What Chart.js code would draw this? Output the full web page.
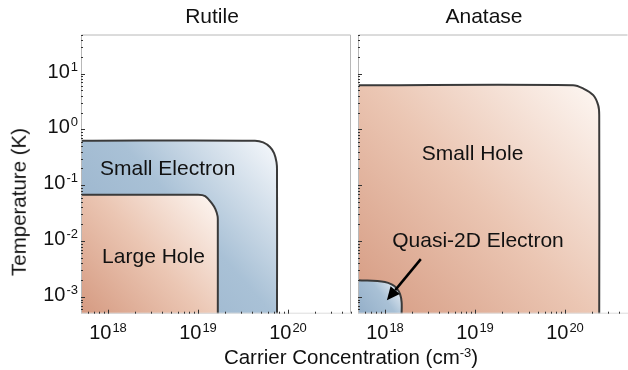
<!DOCTYPE html>
<html>
<head>
<meta charset="utf-8">
<script src="https://cdn.jsdelivr.net/npm/chart.js@4.4.1/dist/chart.umd.min.js"></script>
<style>
  html, body { margin: 0; padding: 0; background: #fff; }
  #wrap { position: relative; width: 628px; height: 370px; overflow: hidden;
          font-family: 'Liberation Sans', Arial, sans-serif; color: #111; }
  canvas { position: absolute; top: 0; }
  #rutile { left: 0; }
  #anatase { left: 352px; }
  .xtitle { position: absolute; left: 351px; top: 347px; transform: translateX(-50%);
            font-size: 20.5px; line-height: 20.5px; white-space: nowrap; }
  .xtitle sup { font-size: 13px; vertical-align: 7px; line-height: 0; }
  .ytitle { position: absolute; left: 19px; top: 202px; transform: translate(-50%, -50%) rotate(-90deg);
            font-size: 20.5px; line-height: 20.5px; white-space: nowrap; }
</style>
</head>
<body>
<div id="wrap">
  <canvas id="rutile" width="356" height="370"></canvas>
  <canvas id="anatase" width="276" height="370"></canvas>
  <div class="ytitle">Temperature (K)</div>
  <div class="xtitle">Carrier Concentration (cm<sup>-3</sup>)</div>
</div>
<script>
// axis limits (cm^-3 and K)
const xRange = [5.012e17, 5.012e20];
const yRange = [5.012e-4, 50.12];
const xTickExps = [18, 19, 20];
const yTickExps = [-3, -2, -1, 0, 1];

// Rutile phase boundaries
const smallElectronN = [5e17, 4.3e19, 5.3e19, 6.3e19, 7.0e19, 7.45e19, 7.55e19, 7.55e19];
const smallElectronT = [0.63, 0.63, 0.586, 0.483, 0.377, 0.26, 0.187, 5e-4];
const largeHoleN = [5e17, 1.0e19, 1.2e19, 1.42e19, 1.56e19, 1.65e19, 1.66e19, 1.66e19];
const largeHoleT = [0.0675, 0.0675, 0.064, 0.048, 0.0374, 0.028, 0.0219, 5e-4];

// Anatase phase boundaries
const smallHoleN = [5e17, 1.23e20, 1.6e20, 2.06e20, 2.34e20, 2.4e20, 2.4e20];
const smallHoleT = [6.2, 6.2, 5.4, 4.1, 2.7, 1.8, 5e-4];
const quasi2dN = [5e17, 1.0e18, 1.2e18, 1.35e18, 1.47e18, 1.53e18, 1.53e18];
const quasi2dT = [0.002, 0.00186, 0.00166, 0.00142, 0.00112, 8.1e-4, 5e-4];

const FONT = "'Liberation Sans', Arial, sans-serif";
const blueStops = [[0, '#93aec8'], [0.55, '#a9c1d6'], [1, '#f7f9fc']];
const salmonStops = [[0, '#d59a81'], [0.5, '#ebc6b3'], [1, '#fdf7f3']];

function pts(xs, ys) {
  return xs.map((x, i) => ({ x: x, y: ys[i] }));
}

// diagonal gradient from the lower-left of the plot to the region's outer corner
function regionFill(stops) {
  return function(context) {
    const chart = context.chart;
    const area = chart.chartArea;
    if (!area || !context.dataset) return stops[1][1];
    const data = context.dataset.data;
    const xMax = Math.max.apply(null, data.map(p => p.x));
    const yMax = Math.max.apply(null, data.map(p => p.y));
    const x1 = chart.scales.x.getPixelForValue(xMax);
    const y1 = chart.scales.y.getPixelForValue(yMax);
    const g = chart.ctx.createLinearGradient(area.left, area.bottom, x1, y1);
    stops.forEach(s => g.addColorStop(s[0], s[1]));
    return g;
  };
}

function region(label, xs, ys, stops, order) {
  return {
    label: label,
    data: pts(xs, ys),
    order: order,
    fill: 'start',
    backgroundColor: regionFill(stops),
    borderColor: '#3a3a3a',
    borderWidth: 2,
    tension: 0.35,
    pointRadius: 0,
    clip: 0
  };
}

function drawPower(ctx, exp, x, y, align) {
  ctx.font = '20px ' + FONT;
  const w1 = ctx.measureText('10').width;
  ctx.font = '13px ' + FONT;
  const w2 = ctx.measureText(String(exp)).width;
  let x0 = align === 'right' ? x - w1 - w2 - 1 : x - (w1 + w2 + 1) / 2;
  ctx.textAlign = 'left';
  ctx.textBaseline = 'alphabetic';
  ctx.font = '20px ' + FONT;
  ctx.fillText('10', x0, y);
  ctx.font = '13px ' + FONT;
  ctx.fillText(String(exp), x0 + w1 + 1, y - 7);
}

const panelPlugin = {
  id: 'panel',
  afterDatasetsDraw(chart, args, opts) {
    const ctx = chart.ctx, a = chart.chartArea;
    const xs = chart.scales.x, ys = chart.scales.y;
    ctx.save();

    // frame
    ctx.strokeStyle = '#b8b8b8';
    ctx.lineWidth = 1;
    ctx.beginPath();
    ctx.moveTo(a.left + 0.5, a.bottom - 0.5);
    ctx.lineTo(a.left + 0.5, a.top + 0.5);
    ctx.lineTo(a.right - 0.5, a.top + 0.5);
    if (opts.rightBorder) ctx.lineTo(a.right - 0.5, a.bottom - 0.5);
    ctx.stroke();
    ctx.strokeStyle = '#dddddd';
    ctx.beginPath();
    ctx.moveTo(a.left, a.bottom - 0.5);
    ctx.lineTo(a.right, a.bottom - 0.5);
    ctx.stroke();

    // inward log ticks
    ctx.strokeStyle = '#333';
    ctx.beginPath();
    for (let e = -4; e <= 2; e++) {
      for (let m = 1; m <= 9; m++) {
        const v = m * Math.pow(10, e);
        if (v < yRange[0] || v > yRange[1]) continue;
        const py = Math.round(ys.getPixelForValue(v)) + 0.5;
        ctx.moveTo(a.left, py);
        ctx.lineTo(a.left + (m === 1 ? 4 : 2), py);
      }
    }
    for (let e = 17; e <= 21; e++) {
      for (let m = 1; m <= 9; m++) {
        const v = m * Math.pow(10, e);
        if (v < xRange[0] || v > xRange[1]) continue;
        const px = Math.round(xs.getPixelForValue(v)) + 0.5;
        ctx.moveTo(px, a.bottom);
        ctx.lineTo(px, a.bottom - (m === 1 ? 4 : 2));
      }
    }
    ctx.stroke();

    // tick labels
    ctx.fillStyle = '#111';
    xTickExps.forEach(e => drawPower(ctx, e, xs.getPixelForValue(Math.pow(10, e)), 339, 'center'));
    if (opts.yLabels) {
      yTickExps.forEach(e => drawPower(ctx, e, a.left - 3, ys.getPixelForValue(Math.pow(10, e)) + 4, 'right'));
    }

    // panel title
    ctx.font = '21px ' + FONT;
    ctx.textAlign = 'center';
    ctx.textBaseline = 'alphabetic';
    ctx.fillText(opts.title, opts.titleX, 23);

    // region labels
    ctx.textBaseline = 'middle';
    opts.labels.forEach(l => {
      ctx.fillText(l.text, xs.getPixelForValue(l.x), ys.getPixelForValue(l.y) + 1);
    });

    // arrow
    if (opts.arrow) {
      const x0 = xs.getPixelForValue(opts.arrow.from[0]), y0 = ys.getPixelForValue(opts.arrow.from[1]);
      const x1 = xs.getPixelForValue(opts.arrow.to[0]), y1 = ys.getPixelForValue(opts.arrow.to[1]);
      const ang = Math.atan2(y1 - y0, x1 - x0);
      const head = 13, half = 6;
      const bx = x1 - head * Math.cos(ang), by = y1 - head * Math.sin(ang);
      ctx.strokeStyle = '#000';
      ctx.lineWidth = 2.5;
      ctx.beginPath();
      ctx.moveTo(x0, y0);
      ctx.lineTo(bx, by);
      ctx.stroke();
      ctx.fillStyle = '#000';
      ctx.beginPath();
      ctx.moveTo(x1, y1);
      ctx.lineTo(bx + half * Math.sin(ang), by - half * Math.cos(ang));
      ctx.lineTo(bx - half * Math.sin(ang), by + half * Math.cos(ang));
      ctx.closePath();
      ctx.fill();
    }
    ctx.restore();
  }
};

function makePanel(id, padLeft, padRight, datasets, panelOpts) {
  return new Chart(document.getElementById(id), {
    type: 'line',
    data: { datasets: datasets },
    options: {
      responsive: false,
      animation: false,
      parsing: false,
      layout: { padding: { left: padLeft, right: padRight, top: 34.5, bottom: 56.3 } },
      scales: {
        x: { type: 'logarithmic', display: false, min: xRange[0], max: xRange[1] },
        y: { type: 'logarithmic', display: false, min: yRange[0], max: yRange[1] }
      },
      plugins: {
        legend: { display: false },
        tooltip: { enabled: false },
        panel: panelOpts
      }
    },
    plugins: [panelPlugin]
  });
}

makePanel('rutile', 81, 5, [
  region('Large Hole', largeHoleN, largeHoleT, salmonStops, 1),
  region('Small Electron', smallElectronN, smallElectronT, blueStops, 2)
], {
  title: 'Rutile', titleX: 212, yLabels: true, rightBorder: true,
  labels: [
    { text: 'Small Electron', x: 4.6e18, y: 0.2 },
    { text: 'Large Hole', x: 3.2e18, y: 0.0054 }
  ],
  arrow: null
});

makePanel('anatase', 6, 0, [
  region('Quasi-2D Electron', quasi2dN, quasi2dT, blueStops, 1),
  region('Small Hole', smallHoleN, smallHoleT, salmonStops, 2)
], {
  title: 'Anatase', titleX: 132, yLabels: false, rightBorder: false,
  labels: [
    { text: 'Small Hole', x: 9.4e18, y: 0.377 },
    { text: 'Quasi-2D Electron', x: 1.08e19, y: 0.0104 }
  ],
  arrow: { from: [2.5e18, 0.00475], to: [1.05e18, 8.75e-4] }
});
</script>
</body>
</html>
